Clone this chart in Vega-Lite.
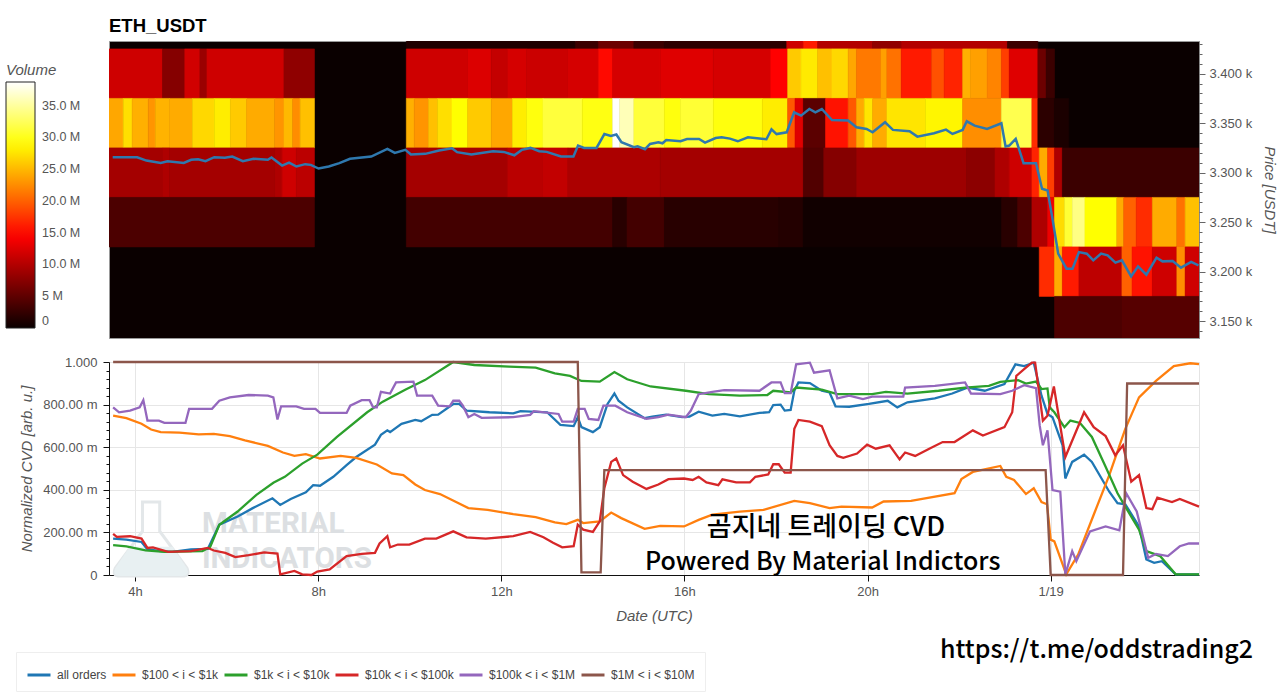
{
"$schema":"https://vega.github.io/schema/vega-lite/v6.json",
"padding":{"left":5,"top":16,"right":0,"bottom":0},
"background":"white",
"spacing":16,
"config":{"font":"Liberation Sans","axis":{"labelFont":"Liberation Sans","titleFont":"Liberation Sans","labelColor":"#555","titleColor":"#555","titleFontStyle":"italic","titleFontWeight":"normal","titleFontSize":15,"labelFontSize":13},"view":{"stroke":"#bbb"}},
"datasets":{
"heat":[
{"a":9.88,"b":13.54,"lo":3425,"hi":3475,"v":1.2},{"a":13.54,"b":14.04,"lo":3425,"hi":3475,"v":2.9},{"a":14.04,"b":14.81,"lo":3425,"hi":3475,"v":5.8},{"a":14.81,"b":15.47,"lo":3425,"hi":3475,"v":2.9},{"a":15.47,"b":18.12,"lo":3425,"hi":3475,"v":2},{"a":18.12,"b":18.48,"lo":3425,"hi":3475,"v":11.6},{"a":18.48,"b":18.79,"lo":3425,"hi":3475,"v":16},{"a":18.79,"b":19.98,"lo":3425,"hi":3475,"v":10},{"a":19.98,"b":20.6,"lo":3425,"hi":3475,"v":8},{"a":20.6,"b":22.9,"lo":3425,"hi":3475,"v":10},{"a":22.9,"b":23.56,"lo":3425,"hi":3475,"v":2.9},
{"a":3.43,"b":4.6,"lo":3375,"hi":3425,"v":11.6},{"a":4.6,"b":5.08,"lo":3375,"hi":3425,"v":7.3},{"a":5.08,"b":5.41,"lo":3375,"hi":3425,"v":11.8},{"a":5.41,"b":5.56,"lo":3375,"hi":3425,"v":8.5},{"a":5.56,"b":7.23,"lo":3375,"hi":3425,"v":11.6},{"a":7.23,"b":7.89,"lo":3375,"hi":3425,"v":7.9},
{"a":9.88,"b":11.21,"lo":3375,"hi":3425,"v":11.6},{"a":11.21,"b":11.72,"lo":3375,"hi":3425,"v":12.4},{"a":11.72,"b":12.07,"lo":3375,"hi":3425,"v":11},{"a":12.07,"b":12.49,"lo":3375,"hi":3425,"v":12},{"a":12.49,"b":13.38,"lo":3375,"hi":3425,"v":11.4},{"a":13.38,"b":14.04,"lo":3375,"hi":3425,"v":12},{"a":14.04,"b":14.35,"lo":3375,"hi":3425,"v":15},{"a":14.35,"b":15.38,"lo":3375,"hi":3425,"v":12},{"a":15.38,"b":16.53,"lo":3375,"hi":3425,"v":12.6},{"a":16.53,"b":17.77,"lo":3375,"hi":3425,"v":12},{"a":17.77,"b":18.14,"lo":3375,"hi":3425,"v":14.5},{"a":18.14,"b":18.43,"lo":3375,"hi":3425,"v":26},{"a":18.43,"b":18.79,"lo":3375,"hi":3425,"v":27.8},{"a":18.79,"b":19.1,"lo":3375,"hi":3425,"v":25.4},{"a":19.1,"b":19.45,"lo":3375,"hi":3425,"v":26.8},{"a":19.45,"b":19.63,"lo":3375,"hi":3425,"v":24},{"a":19.63,"b":20.16,"lo":3375,"hi":3425,"v":21.4},{"a":20.16,"b":20.29,"lo":3375,"hi":3425,"v":23.6},{"a":20.29,"b":20.6,"lo":3375,"hi":3425,"v":21},{"a":20.6,"b":21.26,"lo":3375,"hi":3425,"v":16},{"a":21.26,"b":21.53,"lo":3375,"hi":3425,"v":19.1},{"a":21.53,"b":21.93,"lo":3375,"hi":3425,"v":16.5},{"a":21.93,"b":22.1,"lo":3375,"hi":3425,"v":24.5},{"a":22.1,"b":22.46,"lo":3375,"hi":3425,"v":23.6},{"a":22.46,"b":22.77,"lo":3375,"hi":3425,"v":22},{"a":22.77,"b":22.94,"lo":3375,"hi":3425,"v":18},{"a":22.94,"b":23.56,"lo":3375,"hi":3425,"v":12.6},{"a":23.56,"b":23.74,"lo":3375,"hi":3425,"v":5.8},{"a":23.74,"b":23.92,"lo":3375,"hi":3425,"v":2.9},
{"a":3.43,"b":3.75,"lo":3325,"hi":3375,"v":24},{"a":3.75,"b":3.94,"lo":3325,"hi":3375,"v":27.2},{"a":3.94,"b":4.29,"lo":3325,"hi":3375,"v":24.5},{"a":4.29,"b":4.44,"lo":3325,"hi":3375,"v":23},{"a":4.44,"b":4.75,"lo":3325,"hi":3375,"v":24.7},{"a":4.75,"b":5.25,"lo":3325,"hi":3375,"v":24.2},{"a":5.25,"b":5.72,"lo":3325,"hi":3375,"v":26.8},{"a":5.72,"b":6.07,"lo":3325,"hi":3375,"v":28},{"a":6.07,"b":6.42,"lo":3325,"hi":3375,"v":26},{"a":6.42,"b":7.03,"lo":3325,"hi":3375,"v":24.2},{"a":7.03,"b":7.23,"lo":3325,"hi":3375,"v":23},{"a":7.23,"b":7.42,"lo":3325,"hi":3375,"v":25},{"a":7.42,"b":7.58,"lo":3325,"hi":3375,"v":22.5},{"a":7.58,"b":7.89,"lo":3325,"hi":3375,"v":25.4},
{"a":9.88,"b":10.05,"lo":3325,"hi":3375,"v":24.5},{"a":10.05,"b":10.36,"lo":3325,"hi":3375,"v":23},{"a":10.36,"b":10.56,"lo":3325,"hi":3375,"v":25.4},{"a":10.56,"b":10.87,"lo":3325,"hi":3375,"v":27.2},{"a":10.87,"b":11.21,"lo":3325,"hi":3375,"v":29},{"a":11.21,"b":11.72,"lo":3325,"hi":3375,"v":26},{"a":11.72,"b":12.18,"lo":3325,"hi":3375,"v":24},{"a":12.18,"b":12.49,"lo":3325,"hi":3375,"v":28},{"a":12.49,"b":12.84,"lo":3325,"hi":3375,"v":29.5},{"a":12.84,"b":13.69,"lo":3325,"hi":3375,"v":31.3},{"a":13.69,"b":14.35,"lo":3325,"hi":3375,"v":29.7},{"a":14.35,"b":14.5,"lo":3325,"hi":3375,"v":38.7},{"a":14.5,"b":14.81,"lo":3325,"hi":3375,"v":36},{"a":14.81,"b":15.47,"lo":3325,"hi":3375,"v":31.2},{"a":15.47,"b":15.82,"lo":3325,"hi":3375,"v":29.5},{"a":15.82,"b":16.53,"lo":3325,"hi":3375,"v":31},{"a":16.53,"b":17.59,"lo":3325,"hi":3375,"v":29.5},{"a":17.59,"b":18.14,"lo":3325,"hi":3375,"v":28},{"a":18.14,"b":18.3,"lo":3325,"hi":3375,"v":19.5},{"a":18.3,"b":18.48,"lo":3325,"hi":3375,"v":12.6},{"a":18.48,"b":18.96,"lo":3325,"hi":3375,"v":4.8},{"a":18.96,"b":19.45,"lo":3325,"hi":3375,"v":15.5},{"a":19.45,"b":19.63,"lo":3325,"hi":3375,"v":19.5},{"a":19.63,"b":19.8,"lo":3325,"hi":3375,"v":24.2},{"a":19.8,"b":19.98,"lo":3325,"hi":3375,"v":27.5},{"a":19.98,"b":20.29,"lo":3325,"hi":3375,"v":24.2},{"a":20.29,"b":21.13,"lo":3325,"hi":3375,"v":27.5},{"a":21.13,"b":21.93,"lo":3325,"hi":3375,"v":28.5},{"a":21.93,"b":22.77,"lo":3325,"hi":3375,"v":22.6},{"a":22.77,"b":23.43,"lo":3325,"hi":3375,"v":32},{"a":23.43,"b":23.56,"lo":3325,"hi":3375,"v":17},{"a":23.56,"b":23.92,"lo":3325,"hi":3375,"v":2},{"a":23.92,"b":24.23,"lo":3325,"hi":3375,"v":1},
{"a":3.43,"b":4.6,"lo":3275,"hi":3325,"v":9.1},{"a":4.6,"b":4.75,"lo":3275,"hi":3325,"v":9.7},{"a":4.75,"b":7.03,"lo":3275,"hi":3325,"v":9.1},{"a":7.03,"b":7.19,"lo":3275,"hi":3325,"v":9.7},{"a":7.19,"b":7.5,"lo":3275,"hi":3325,"v":11.6},{"a":7.5,"b":7.89,"lo":3275,"hi":3325,"v":10.5},
{"a":9.88,"b":12.07,"lo":3275,"hi":3325,"v":9.1},{"a":12.07,"b":12.84,"lo":3275,"hi":3325,"v":10.4},{"a":12.84,"b":13.38,"lo":3275,"hi":3325,"v":10.9},{"a":13.38,"b":15.38,"lo":3275,"hi":3325,"v":9.6},{"a":15.38,"b":18.48,"lo":3275,"hi":3325,"v":9.1},{"a":18.48,"b":18.92,"lo":3275,"hi":3325,"v":4.2},{"a":18.92,"b":19.63,"lo":3275,"hi":3325,"v":7.3},{"a":19.63,"b":22.02,"lo":3275,"hi":3325,"v":8.7},{"a":22.02,"b":22.63,"lo":3275,"hi":3325,"v":7.7},{"a":22.63,"b":22.94,"lo":3275,"hi":3325,"v":9.7},{"a":22.94,"b":23.43,"lo":3275,"hi":3325,"v":11.6},{"a":23.43,"b":23.59,"lo":3275,"hi":3325,"v":16.5},{"a":23.59,"b":23.77,"lo":3275,"hi":3325,"v":24.2},{"a":23.77,"b":23.92,"lo":3275,"hi":3325,"v":18},{"a":23.92,"b":24.09,"lo":3275,"hi":3325,"v":9.7},{"a":24.09,"b":27.06,"lo":3275,"hi":3325,"v":2.9},
{"a":3.43,"b":7.89,"lo":3225,"hi":3275,"v":3.9},{"a":9.88,"b":14.35,"lo":3225,"hi":3275,"v":3.4},{"a":14.35,"b":14.66,"lo":3225,"hi":3275,"v":1.8},{"a":14.66,"b":15.47,"lo":3225,"hi":3275,"v":3.4},{"a":15.47,"b":17.95,"lo":3225,"hi":3275,"v":1.8},{"a":17.95,"b":18.48,"lo":3225,"hi":3275,"v":1.5},{"a":18.48,"b":22.77,"lo":3225,"hi":3275,"v":0.4},{"a":22.77,"b":23.12,"lo":3225,"hi":3275,"v":1.8},{"a":23.12,"b":23.43,"lo":3225,"hi":3275,"v":3.9},{"a":23.43,"b":23.77,"lo":3225,"hi":3275,"v":9.7},{"a":23.77,"b":23.92,"lo":3225,"hi":3275,"v":13.5},{"a":23.92,"b":24.14,"lo":3225,"hi":3275,"v":27},{"a":24.14,"b":24.31,"lo":3225,"hi":3275,"v":31},{"a":24.31,"b":24.58,"lo":3225,"hi":3275,"v":34},{"a":24.58,"b":25.27,"lo":3225,"hi":3275,"v":29},{"a":25.27,"b":25.42,"lo":3225,"hi":3275,"v":24.2},{"a":25.42,"b":25.69,"lo":3225,"hi":3275,"v":20},{"a":25.69,"b":26.04,"lo":3225,"hi":3275,"v":17},{"a":26.04,"b":26.57,"lo":3225,"hi":3275,"v":24.2},{"a":26.57,"b":26.75,"lo":3225,"hi":3275,"v":21},{"a":26.75,"b":27.06,"lo":3225,"hi":3275,"v":25.4},
{"a":23.59,"b":23.92,"lo":3175,"hi":3225,"v":17},{"a":23.92,"b":24.09,"lo":3175,"hi":3225,"v":24.2},{"a":24.09,"b":24.45,"lo":3175,"hi":3225,"v":16},{"a":24.45,"b":25.38,"lo":3175,"hi":3225,"v":10.6},{"a":25.38,"b":25.6,"lo":3175,"hi":3225,"v":20},{"a":25.6,"b":26.04,"lo":3175,"hi":3225,"v":15.5},{"a":26.04,"b":26.57,"lo":3175,"hi":3225,"v":11.6},{"a":26.57,"b":26.75,"lo":3175,"hi":3225,"v":22.6},{"a":26.75,"b":27.06,"lo":3175,"hi":3225,"v":11.6},
{"a":23.92,"b":25.38,"lo":3125,"hi":3175,"v":3.9},{"a":25.38,"b":27.06,"lo":3125,"hi":3175,"v":4.5}
],
"price":[
{"h":3.52,"p":3315.6},{"h":4.05,"p":3315.6},{"h":4.25,"p":3312.2},{"h":4.56,"p":3309.9},{"h":4.71,"p":3311.6},{"h":5.06,"p":3309.9},{"h":5.22,"p":3313},{"h":5.37,"p":3313.6},{"h":5.53,"p":3311.6},{"h":5.72,"p":3315.6},{"h":5.95,"p":3315},{"h":6.11,"p":3316.3},{"h":6.34,"p":3311.6},{"h":6.57,"p":3314},{"h":6.88,"p":3313},{"h":6.96,"p":3315.3},{"h":7.19,"p":3307.2},{"h":7.34,"p":3310.2},{"h":7.5,"p":3306.2},{"h":7.69,"p":3308.6},{"h":7.81,"p":3307.9},{"h":7.98,"p":3304.2},{"h":8.2,"p":3306.2},{"h":8.43,"p":3309.6},{"h":8.66,"p":3314},{"h":9.12,"p":3316.3},{"h":9.47,"p":3324},{"h":9.63,"p":3320},{"h":9.86,"p":3323},{"h":9.98,"p":3318.3},{"h":10.29,"p":3319},{"h":10.59,"p":3322.3},{"h":10.87,"p":3324.7},{"h":10.98,"p":3320.7},{"h":11.29,"p":3318.3},{"h":11.76,"p":3321.7},{"h":11.99,"p":3321},{"h":12.22,"p":3317.6},{"h":12.38,"p":3323},{"h":12.57,"p":3325},{"h":12.76,"p":3321.7},{"h":12.92,"p":3321},{"h":13.23,"p":3316.3},{"h":13.5,"p":3316.3},{"h":13.6,"p":3327.4},{"h":13.73,"p":3325},{"h":14,"p":3325},{"h":14.17,"p":3339},{"h":14.31,"p":3337},{"h":14.43,"p":3338.5},{"h":14.54,"p":3330.7},{"h":14.81,"p":3325.7},{"h":14.89,"p":3326.7},{"h":15.05,"p":3323.7},{"h":15.16,"p":3329},{"h":15.34,"p":3330.7},{"h":15.43,"p":3329.7},{"h":15.51,"p":3333},{"h":15.82,"p":3331.7},{"h":15.96,"p":3334},{"h":16.22,"p":3334},{"h":16.35,"p":3330.4},{"h":16.58,"p":3335},{"h":16.71,"p":3335.8},{"h":16.89,"p":3334.4},{"h":17.06,"p":3331.7},{"h":17.28,"p":3335.8},{"h":17.68,"p":3333.8},{"h":17.79,"p":3343.8},{"h":17.9,"p":3339},{"h":18.12,"p":3340.8},{"h":18.28,"p":3361},{"h":18.43,"p":3357.6},{"h":18.61,"p":3364.3},{"h":18.74,"p":3361},{"h":18.88,"p":3364.3},{"h":19.1,"p":3353.2},{"h":19.45,"p":3352.6},{"h":19.63,"p":3345.8},{"h":19.85,"p":3344.2},{"h":19.98,"p":3340.8},{"h":20.25,"p":3350.9},{"h":20.42,"p":3343.2},{"h":20.78,"p":3341.8},{"h":20.95,"p":3336.4},{"h":21.31,"p":3339.8},{"h":21.57,"p":3343.5},{"h":21.71,"p":3339.1},{"h":21.93,"p":3343.2},{"h":22.02,"p":3351.9},{"h":22.19,"p":3347.5},{"h":22.46,"p":3344.2},{"h":22.77,"p":3349.9},{"h":22.86,"p":3326.4},{"h":22.94,"p":3327.4},{"h":23.08,"p":3334.1},{"h":23.25,"p":3309.6},{"h":23.52,"p":3309.6},{"h":23.65,"p":3283.7},{"h":23.77,"p":3282},{"h":23.87,"p":3255.1},{"h":24,"p":3218.2},{"h":24.18,"p":3203},{"h":24.31,"p":3203},{"h":24.45,"p":3219.8},{"h":24.62,"p":3218.2},{"h":24.76,"p":3211.4},{"h":24.93,"p":3218.2},{"h":25.07,"p":3216.5},{"h":25.24,"p":3209.1},{"h":25.38,"p":3211.4},{"h":25.58,"p":3195.3},{"h":25.73,"p":3205.4},{"h":25.91,"p":3197},{"h":26.13,"p":3214.1},{"h":26.26,"p":3210.4},{"h":26.48,"p":3210.8},{"h":26.66,"p":3204},{"h":26.88,"p":3209.8},{"h":27.04,"p":3206.4}
],
"cvd":[
{"h":3.52,"s":"all orders","v":0.171},{"h":3.81,"s":"all orders","v":0.166},{"h":4.14,"s":"all orders","v":0.155},{"h":4.27,"s":"all orders","v":0.12},{"h":4.56,"s":"all orders","v":0.112},{"h":4.81,"s":"all orders","v":0.109},{"h":5.22,"s":"all orders","v":0.12},{"h":5.59,"s":"all orders","v":0.123},{"h":5.84,"s":"all orders","v":0.236},{"h":6.24,"s":"all orders","v":0.275},{"h":6.57,"s":"all orders","v":0.314},{"h":7,"s":"all orders","v":0.36},{"h":7.17,"s":"all orders","v":0.329},{"h":7.4,"s":"all orders","v":0.357},{"h":7.73,"s":"all orders","v":0.388},{"h":7.89,"s":"all orders","v":0.422},{"h":8.04,"s":"all orders","v":0.419},{"h":8.33,"s":"all orders","v":0.461},{"h":8.62,"s":"all orders","v":0.516},{"h":8.83,"s":"all orders","v":0.554},{"h":9.24,"s":"all orders","v":0.612},{"h":9.37,"s":"all orders","v":0.658},{"h":9.51,"s":"all orders","v":0.679},{"h":9.57,"s":"all orders","v":0.671},{"h":9.82,"s":"all orders","v":0.71},{"h":10.12,"s":"all orders","v":0.728},{"h":10.25,"s":"all orders","v":0.722},{"h":10.49,"s":"all orders","v":0.752},{"h":10.62,"s":"all orders","v":0.753},{"h":10.95,"s":"all orders","v":0.803},{"h":11.08,"s":"all orders","v":0.803},{"h":11.24,"s":"all orders","v":0.772},{"h":11.74,"s":"all orders","v":0.764},{"h":12.26,"s":"all orders","v":0.759},{"h":12.42,"s":"all orders","v":0.769},{"h":13,"s":"all orders","v":0.764},{"h":13.29,"s":"all orders","v":0.705},{"h":13.58,"s":"all orders","v":0.699},{"h":13.67,"s":"all orders","v":0.741},{"h":13.75,"s":"all orders","v":0.694},{"h":14,"s":"all orders","v":0.671},{"h":14.15,"s":"all orders","v":0.694},{"h":14.32,"s":"all orders","v":0.803},{"h":14.47,"s":"all orders","v":0.852},{"h":14.56,"s":"all orders","v":0.818},{"h":14.75,"s":"all orders","v":0.787},{"h":15.13,"s":"all orders","v":0.736},{"h":15.3,"s":"all orders","v":0.744},{"h":15.6,"s":"all orders","v":0.753},{"h":15.95,"s":"all orders","v":0.741},{"h":16.11,"s":"all orders","v":0.744},{"h":16.31,"s":"all orders","v":0.767},{"h":16.61,"s":"all orders","v":0.748},{"h":16.87,"s":"all orders","v":0.756},{"h":17.21,"s":"all orders","v":0.745},{"h":17.64,"s":"all orders","v":0.761},{"h":17.85,"s":"all orders","v":0.764},{"h":17.94,"s":"all orders","v":0.798},{"h":18.1,"s":"all orders","v":0.8},{"h":18.19,"s":"all orders","v":0.772},{"h":18.32,"s":"all orders","v":0.775},{"h":18.4,"s":"all orders","v":0.865},{"h":18.49,"s":"all orders","v":0.904},{"h":18.74,"s":"all orders","v":0.901},{"h":19,"s":"all orders","v":0.865},{"h":19.17,"s":"all orders","v":0.857},{"h":19.3,"s":"all orders","v":0.792},{"h":19.6,"s":"all orders","v":0.79},{"h":20.03,"s":"all orders","v":0.803},{"h":20.44,"s":"all orders","v":0.818},{"h":20.65,"s":"all orders","v":0.787},{"h":20.87,"s":"all orders","v":0.811},{"h":21.47,"s":"all orders","v":0.829},{"h":21.85,"s":"all orders","v":0.852},{"h":22.18,"s":"all orders","v":0.88},{"h":22.56,"s":"all orders","v":0.865},{"h":22.99,"s":"all orders","v":0.896},{"h":23.23,"s":"all orders","v":0.989},{"h":23.42,"s":"all orders","v":0.981},{"h":23.63,"s":"all orders","v":0.997},{"h":23.8,"s":"all orders","v":0.842},{"h":23.93,"s":"all orders","v":0.756},{"h":24.04,"s":"all orders","v":0.741},{"h":24.26,"s":"all orders","v":0.609},{"h":24.32,"s":"all orders","v":0.453},{"h":24.47,"s":"all orders","v":0.531},{"h":24.73,"s":"all orders","v":0.565},{"h":24.9,"s":"all orders","v":0.531},{"h":25.28,"s":"all orders","v":0.391},{"h":25.46,"s":"all orders","v":0.337},{"h":25.63,"s":"all orders","v":0.332},{"h":25.93,"s":"all orders","v":0.228},{"h":26.09,"s":"all orders","v":0.073},{"h":26.26,"s":"all orders","v":0.057},{"h":26.43,"s":"all orders","v":0.065},{"h":26.73,"s":"all orders","v":0.003},{"h":27.24,"s":"all orders","v":0.003},
{"h":3.52,"s":"$100 < i < $1k","v":0.748},{"h":3.81,"s":"$100 < i < $1k","v":0.736},{"h":4.14,"s":"$100 < i < $1k","v":0.71},{"h":4.35,"s":"$100 < i < $1k","v":0.683},{"h":4.56,"s":"$100 < i < $1k","v":0.671},{"h":4.97,"s":"$100 < i < $1k","v":0.668},{"h":5.39,"s":"$100 < i < $1k","v":0.66},{"h":5.72,"s":"$100 < i < $1k","v":0.663},{"h":6.07,"s":"$100 < i < $1k","v":0.652},{"h":6.4,"s":"$100 < i < $1k","v":0.632},{"h":6.9,"s":"$100 < i < $1k","v":0.606},{"h":7.23,"s":"$100 < i < $1k","v":0.575},{"h":7.48,"s":"$100 < i < $1k","v":0.559},{"h":7.73,"s":"$100 < i < $1k","v":0.567},{"h":8.04,"s":"$100 < i < $1k","v":0.547},{"h":8.49,"s":"$100 < i < $1k","v":0.559},{"h":8.83,"s":"$100 < i < $1k","v":0.55},{"h":9.28,"s":"$100 < i < $1k","v":0.519},{"h":9.61,"s":"$100 < i < $1k","v":0.477},{"h":9.86,"s":"$100 < i < $1k","v":0.469},{"h":10.12,"s":"$100 < i < $1k","v":0.425},{"h":10.33,"s":"$100 < i < $1k","v":0.399},{"h":10.66,"s":"$100 < i < $1k","v":0.38},{"h":10.99,"s":"$100 < i < $1k","v":0.345},{"h":11.28,"s":"$100 < i < $1k","v":0.314},{"h":11.7,"s":"$100 < i < $1k","v":0.306},{"h":12.26,"s":"$100 < i < $1k","v":0.286},{"h":12.75,"s":"$100 < i < $1k","v":0.272},{"h":13.17,"s":"$100 < i < $1k","v":0.247},{"h":13.42,"s":"$100 < i < $1k","v":0.239},{"h":13.67,"s":"$100 < i < $1k","v":0.259},{"h":13.79,"s":"$100 < i < $1k","v":0.244},{"h":14.15,"s":"$100 < i < $1k","v":0.252},{"h":14.4,"s":"$100 < i < $1k","v":0.293},{"h":14.62,"s":"$100 < i < $1k","v":0.267},{"h":15.13,"s":"$100 < i < $1k","v":0.217},{"h":15.47,"s":"$100 < i < $1k","v":0.231},{"h":15.99,"s":"$100 < i < $1k","v":0.228},{"h":16.31,"s":"$100 < i < $1k","v":0.259},{"h":16.61,"s":"$100 < i < $1k","v":0.283},{"h":17.21,"s":"$100 < i < $1k","v":0.298},{"h":17.73,"s":"$100 < i < $1k","v":0.306},{"h":18.4,"s":"$100 < i < $1k","v":0.348},{"h":18.74,"s":"$100 < i < $1k","v":0.337},{"h":19.17,"s":"$100 < i < $1k","v":0.314},{"h":19.43,"s":"$100 < i < $1k","v":0.321},{"h":20.1,"s":"$100 < i < $1k","v":0.317},{"h":20.35,"s":"$100 < i < $1k","v":0.345},{"h":20.95,"s":"$100 < i < $1k","v":0.348},{"h":21.9,"s":"$100 < i < $1k","v":0.384},{"h":22.05,"s":"$100 < i < $1k","v":0.45},{"h":22.3,"s":"$100 < i < $1k","v":0.484},{"h":22.9,"s":"$100 < i < $1k","v":0.512},{"h":23.03,"s":"$100 < i < $1k","v":0.461},{"h":23.2,"s":"$100 < i < $1k","v":0.446},{"h":23.46,"s":"$100 < i < $1k","v":0.38},{"h":23.63,"s":"$100 < i < $1k","v":0.407},{"h":23.8,"s":"$100 < i < $1k","v":0.342},{"h":23.92,"s":"$100 < i < $1k","v":0.332},{"h":24,"s":"$100 < i < $1k","v":0.166},{"h":24.08,"s":"$100 < i < $1k","v":0.158},{"h":24.34,"s":"$100 < i < $1k","v":0.003},{"h":24.6,"s":"$100 < i < $1k","v":0.096},{"h":24.94,"s":"$100 < i < $1k","v":0.283},{"h":25.28,"s":"$100 < i < $1k","v":0.469},{"h":25.63,"s":"$100 < i < $1k","v":0.686},{"h":25.93,"s":"$100 < i < $1k","v":0.834},{"h":26.3,"s":"$100 < i < $1k","v":0.911},{"h":26.69,"s":"$100 < i < $1k","v":0.981},{"h":27.05,"s":"$100 < i < $1k","v":0.994},{"h":27.24,"s":"$100 < i < $1k","v":0.99},
{"h":3.52,"s":"$1k < i < $10k","v":0.14},{"h":3.81,"s":"$1k < i < $10k","v":0.134},{"h":4.23,"s":"$1k < i < $10k","v":0.116},{"h":4.64,"s":"$1k < i < $10k","v":0.109},{"h":5.47,"s":"$1k < i < $10k","v":0.112},{"h":5.64,"s":"$1k < i < $10k","v":0.132},{"h":5.84,"s":"$1k < i < $10k","v":0.236},{"h":6.24,"s":"$1k < i < $10k","v":0.298},{"h":6.65,"s":"$1k < i < $10k","v":0.376},{"h":7.02,"s":"$1k < i < $10k","v":0.433},{"h":7.27,"s":"$1k < i < $10k","v":0.461},{"h":7.65,"s":"$1k < i < $10k","v":0.523},{"h":7.98,"s":"$1k < i < $10k","v":0.565},{"h":8.41,"s":"$1k < i < $10k","v":0.648},{"h":9.07,"s":"$1k < i < $10k","v":0.764},{"h":9.41,"s":"$1k < i < $10k","v":0.814},{"h":9.9,"s":"$1k < i < $10k","v":0.87},{"h":10.33,"s":"$1k < i < $10k","v":0.915},{"h":10.95,"s":"$1k < i < $10k","v":1},{"h":11.41,"s":"$1k < i < $10k","v":0.986},{"h":12.17,"s":"$1k < i < $10k","v":0.978},{"h":12.75,"s":"$1k < i < $10k","v":0.974},{"h":13.17,"s":"$1k < i < $10k","v":0.947},{"h":13.5,"s":"$1k < i < $10k","v":0.935},{"h":13.75,"s":"$1k < i < $10k","v":0.911},{"h":14.15,"s":"$1k < i < $10k","v":0.908},{"h":14.47,"s":"$1k < i < $10k","v":0.953},{"h":14.75,"s":"$1k < i < $10k","v":0.919},{"h":15.26,"s":"$1k < i < $10k","v":0.885},{"h":16.03,"s":"$1k < i < $10k","v":0.865},{"h":16.53,"s":"$1k < i < $10k","v":0.849},{"h":17.21,"s":"$1k < i < $10k","v":0.842},{"h":17.81,"s":"$1k < i < $10k","v":0.845},{"h":17.94,"s":"$1k < i < $10k","v":0.865},{"h":18.32,"s":"$1k < i < $10k","v":0.857},{"h":18.44,"s":"$1k < i < $10k","v":0.88},{"h":19,"s":"$1k < i < $10k","v":0.87},{"h":19.34,"s":"$1k < i < $10k","v":0.849},{"h":20.1,"s":"$1k < i < $10k","v":0.849},{"h":20.4,"s":"$1k < i < $10k","v":0.86},{"h":20.87,"s":"$1k < i < $10k","v":0.852},{"h":21.55,"s":"$1k < i < $10k","v":0.865},{"h":22.13,"s":"$1k < i < $10k","v":0.88},{"h":22.65,"s":"$1k < i < $10k","v":0.888},{"h":22.9,"s":"$1k < i < $10k","v":0.907},{"h":23.29,"s":"$1k < i < $10k","v":0.915},{"h":23.46,"s":"$1k < i < $10k","v":0.899},{"h":23.68,"s":"$1k < i < $10k","v":0.908},{"h":23.8,"s":"$1k < i < $10k","v":0.873},{"h":23.93,"s":"$1k < i < $10k","v":0.876},{"h":23.98,"s":"$1k < i < $10k","v":0.787},{"h":24.08,"s":"$1k < i < $10k","v":0.764},{"h":24.3,"s":"$1k < i < $10k","v":0.694},{"h":24.43,"s":"$1k < i < $10k","v":0.725},{"h":24.64,"s":"$1k < i < $10k","v":0.714},{"h":24.9,"s":"$1k < i < $10k","v":0.648},{"h":25.2,"s":"$1k < i < $10k","v":0.508},{"h":25.46,"s":"$1k < i < $10k","v":0.384},{"h":25.63,"s":"$1k < i < $10k","v":0.321},{"h":25.93,"s":"$1k < i < $10k","v":0.213},{"h":26.09,"s":"$1k < i < $10k","v":0.112},{"h":26.39,"s":"$1k < i < $10k","v":0.089},{"h":26.73,"s":"$1k < i < $10k","v":0.003},{"h":27.24,"s":"$1k < i < $10k","v":0.003},
{"h":3.52,"s":"$10k < i < $100k","v":0.193},{"h":3.6,"s":"$10k < i < $100k","v":0.179},{"h":3.89,"s":"$10k < i < $100k","v":0.182},{"h":4.14,"s":"$10k < i < $100k","v":0.171},{"h":4.27,"s":"$10k < i < $100k","v":0.127},{"h":4.39,"s":"$10k < i < $100k","v":0.13},{"h":4.72,"s":"$10k < i < $100k","v":0.109},{"h":5.22,"s":"$10k < i < $100k","v":0.112},{"h":5.59,"s":"$10k < i < $100k","v":0.127},{"h":5.72,"s":"$10k < i < $100k","v":0.115},{"h":5.97,"s":"$10k < i < $100k","v":0.104},{"h":6.19,"s":"$10k < i < $100k","v":0.084},{"h":6.48,"s":"$10k < i < $100k","v":0.093},{"h":6.82,"s":"$10k < i < $100k","v":0.106},{"h":7.11,"s":"$10k < i < $100k","v":0.101},{"h":7.17,"s":"$10k < i < $100k","v":0.003},{"h":7.48,"s":"$10k < i < $100k","v":0.019},{"h":7.65,"s":"$10k < i < $100k","v":0.003},{"h":7.85,"s":"$10k < i < $100k","v":0},{"h":7.98,"s":"$10k < i < $100k","v":0.016},{"h":8.25,"s":"$10k < i < $100k","v":0.026},{"h":8.62,"s":"$10k < i < $100k","v":0.089},{"h":8.95,"s":"$10k < i < $100k","v":0.099},{"h":9.24,"s":"$10k < i < $100k","v":0.104},{"h":9.34,"s":"$10k < i < $100k","v":0.148},{"h":9.51,"s":"$10k < i < $100k","v":0.182},{"h":9.57,"s":"$10k < i < $100k","v":0.13},{"h":9.74,"s":"$10k < i < $100k","v":0.143},{"h":9.99,"s":"$10k < i < $100k","v":0.143},{"h":10.33,"s":"$10k < i < $100k","v":0.171},{"h":10.58,"s":"$10k < i < $100k","v":0.171},{"h":10.95,"s":"$10k < i < $100k","v":0.205},{"h":11.24,"s":"$10k < i < $100k","v":0.177},{"h":11.66,"s":"$10k < i < $100k","v":0.171},{"h":12.26,"s":"$10k < i < $100k","v":0.182},{"h":12.63,"s":"$10k < i < $100k","v":0.202},{"h":12.92,"s":"$10k < i < $100k","v":0.177},{"h":13.13,"s":"$10k < i < $100k","v":0.151},{"h":13.33,"s":"$10k < i < $100k","v":0.13},{"h":13.58,"s":"$10k < i < $100k","v":0.135},{"h":13.67,"s":"$10k < i < $100k","v":0.236},{"h":13.79,"s":"$10k < i < $100k","v":0.213},{"h":14,"s":"$10k < i < $100k","v":0.202},{"h":14.15,"s":"$10k < i < $100k","v":0.252},{"h":14.25,"s":"$10k < i < $100k","v":0.407},{"h":14.4,"s":"$10k < i < $100k","v":0.531},{"h":14.51,"s":"$10k < i < $100k","v":0.547},{"h":14.66,"s":"$10k < i < $100k","v":0.469},{"h":14.87,"s":"$10k < i < $100k","v":0.438},{"h":15.17,"s":"$10k < i < $100k","v":0.404},{"h":15.43,"s":"$10k < i < $100k","v":0.425},{"h":15.65,"s":"$10k < i < $100k","v":0.45},{"h":15.99,"s":"$10k < i < $100k","v":0.453},{"h":16.18,"s":"$10k < i < $100k","v":0.446},{"h":16.31,"s":"$10k < i < $100k","v":0.461},{"h":16.48,"s":"$10k < i < $100k","v":0.435},{"h":16.74,"s":"$10k < i < $100k","v":0.422},{"h":16.83,"s":"$10k < i < $100k","v":0.449},{"h":17.13,"s":"$10k < i < $100k","v":0.435},{"h":17.43,"s":"$10k < i < $100k","v":0.435},{"h":17.55,"s":"$10k < i < $100k","v":0.461},{"h":17.83,"s":"$10k < i < $100k","v":0.472},{"h":17.94,"s":"$10k < i < $100k","v":0.52},{"h":18.06,"s":"$10k < i < $100k","v":0.52},{"h":18.19,"s":"$10k < i < $100k","v":0.481},{"h":18.32,"s":"$10k < i < $100k","v":0.481},{"h":18.4,"s":"$10k < i < $100k","v":0.686},{"h":18.49,"s":"$10k < i < $100k","v":0.728},{"h":18.74,"s":"$10k < i < $100k","v":0.72},{"h":19,"s":"$10k < i < $100k","v":0.699},{"h":19.17,"s":"$10k < i < $100k","v":0.609},{"h":19.34,"s":"$10k < i < $100k","v":0.559},{"h":19.47,"s":"$10k < i < $100k","v":0.55},{"h":19.77,"s":"$10k < i < $100k","v":0.57},{"h":19.99,"s":"$10k < i < $100k","v":0.612},{"h":20.18,"s":"$10k < i < $100k","v":0.593},{"h":20.48,"s":"$10k < i < $100k","v":0.609},{"h":20.7,"s":"$10k < i < $100k","v":0.543},{"h":20.82,"s":"$10k < i < $100k","v":0.575},{"h":21.04,"s":"$10k < i < $100k","v":0.559},{"h":21.38,"s":"$10k < i < $100k","v":0.596},{"h":21.64,"s":"$10k < i < $100k","v":0.624},{"h":21.9,"s":"$10k < i < $100k","v":0.624},{"h":22.3,"s":"$10k < i < $100k","v":0.679},{"h":22.52,"s":"$10k < i < $100k","v":0.655},{"h":22.99,"s":"$10k < i < $100k","v":0.694},{"h":23.16,"s":"$10k < i < $100k","v":0.764},{"h":23.25,"s":"$10k < i < $100k","v":0.935},{"h":23.42,"s":"$10k < i < $100k","v":0.966},{"h":23.59,"s":"$10k < i < $100k","v":0.997},{"h":23.66,"s":"$10k < i < $100k","v":0.997},{"h":23.83,"s":"$10k < i < $100k","v":0.725},{"h":23.93,"s":"$10k < i < $100k","v":0.748},{"h":24.07,"s":"$10k < i < $100k","v":0.885},{"h":24.32,"s":"$10k < i < $100k","v":0.554},{"h":24.73,"s":"$10k < i < $100k","v":0.764},{"h":24.94,"s":"$10k < i < $100k","v":0.694},{"h":25.2,"s":"$10k < i < $100k","v":0.652},{"h":25.41,"s":"$10k < i < $100k","v":0.562},{"h":25.58,"s":"$10k < i < $100k","v":0.609},{"h":25.76,"s":"$10k < i < $100k","v":0.438},{"h":25.93,"s":"$10k < i < $100k","v":0.469},{"h":26.09,"s":"$10k < i < $100k","v":0.314},{"h":26.22,"s":"$10k < i < $100k","v":0.309},{"h":26.33,"s":"$10k < i < $100k","v":0.363},{"h":26.65,"s":"$10k < i < $100k","v":0.342},{"h":26.82,"s":"$10k < i < $100k","v":0.357},{"h":27.24,"s":"$10k < i < $100k","v":0.321},
{"h":3.52,"s":"$100k < i < $1M","v":0.787},{"h":3.65,"s":"$100k < i < $1M","v":0.764},{"h":3.89,"s":"$100k < i < $1M","v":0.772},{"h":4.1,"s":"$100k < i < $1M","v":0.787},{"h":4.18,"s":"$100k < i < $1M","v":0.821},{"h":4.27,"s":"$100k < i < $1M","v":0.725},{"h":4.52,"s":"$100k < i < $1M","v":0.725},{"h":4.64,"s":"$100k < i < $1M","v":0.714},{"h":5.1,"s":"$100k < i < $1M","v":0.714},{"h":5.18,"s":"$100k < i < $1M","v":0.78},{"h":5.68,"s":"$100k < i < $1M","v":0.78},{"h":5.84,"s":"$100k < i < $1M","v":0.818},{"h":6.07,"s":"$100k < i < $1M","v":0.834},{"h":6.48,"s":"$100k < i < $1M","v":0.845},{"h":6.9,"s":"$100k < i < $1M","v":0.842},{"h":7.02,"s":"$100k < i < $1M","v":0.834},{"h":7.11,"s":"$100k < i < $1M","v":0.73},{"h":7.19,"s":"$100k < i < $1M","v":0.792},{"h":7.52,"s":"$100k < i < $1M","v":0.792},{"h":7.69,"s":"$100k < i < $1M","v":0.78},{"h":7.94,"s":"$100k < i < $1M","v":0.78},{"h":8.04,"s":"$100k < i < $1M","v":0.761},{"h":8.62,"s":"$100k < i < $1M","v":0.761},{"h":8.7,"s":"$100k < i < $1M","v":0.795},{"h":8.95,"s":"$100k < i < $1M","v":0.821},{"h":9.12,"s":"$100k < i < $1M","v":0.821},{"h":9.2,"s":"$100k < i < $1M","v":0.787},{"h":9.28,"s":"$100k < i < $1M","v":0.787},{"h":9.37,"s":"$100k < i < $1M","v":0.86},{"h":9.57,"s":"$100k < i < $1M","v":0.852},{"h":9.7,"s":"$100k < i < $1M","v":0.904},{"h":10.08,"s":"$100k < i < $1M","v":0.908},{"h":10.16,"s":"$100k < i < $1M","v":0.842},{"h":10.49,"s":"$100k < i < $1M","v":0.842},{"h":10.62,"s":"$100k < i < $1M","v":0.795},{"h":10.87,"s":"$100k < i < $1M","v":0.792},{"h":10.95,"s":"$100k < i < $1M","v":0.818},{"h":11.08,"s":"$100k < i < $1M","v":0.818},{"h":11.16,"s":"$100k < i < $1M","v":0.795},{"h":11.28,"s":"$100k < i < $1M","v":0.741},{"h":11.41,"s":"$100k < i < $1M","v":0.756},{"h":11.57,"s":"$100k < i < $1M","v":0.738},{"h":12.26,"s":"$100k < i < $1M","v":0.741},{"h":12.63,"s":"$100k < i < $1M","v":0.752},{"h":12.71,"s":"$100k < i < $1M","v":0.769},{"h":13.25,"s":"$100k < i < $1M","v":0.756},{"h":13.33,"s":"$100k < i < $1M","v":0.72},{"h":13.58,"s":"$100k < i < $1M","v":0.72},{"h":13.67,"s":"$100k < i < $1M","v":0.78},{"h":13.82,"s":"$100k < i < $1M","v":0.78},{"h":13.91,"s":"$100k < i < $1M","v":0.733},{"h":14.12,"s":"$100k < i < $1M","v":0.728},{"h":14.23,"s":"$100k < i < $1M","v":0.795},{"h":14.49,"s":"$100k < i < $1M","v":0.795},{"h":14.75,"s":"$100k < i < $1M","v":0.764},{"h":15.17,"s":"$100k < i < $1M","v":0.733},{"h":15.43,"s":"$100k < i < $1M","v":0.741},{"h":15.65,"s":"$100k < i < $1M","v":0.753},{"h":16.03,"s":"$100k < i < $1M","v":0.741},{"h":16.14,"s":"$100k < i < $1M","v":0.772},{"h":16.31,"s":"$100k < i < $1M","v":0.849},{"h":16.61,"s":"$100k < i < $1M","v":0.86},{"h":16.87,"s":"$100k < i < $1M","v":0.868},{"h":17.64,"s":"$100k < i < $1M","v":0.865},{"h":17.9,"s":"$100k < i < $1M","v":0.904},{"h":18.1,"s":"$100k < i < $1M","v":0.904},{"h":18.19,"s":"$100k < i < $1M","v":0.854},{"h":18.32,"s":"$100k < i < $1M","v":0.854},{"h":18.44,"s":"$100k < i < $1M","v":0.989},{"h":18.74,"s":"$100k < i < $1M","v":0.997},{"h":18.83,"s":"$100k < i < $1M","v":0.95},{"h":19.17,"s":"$100k < i < $1M","v":0.961},{"h":19.34,"s":"$100k < i < $1M","v":0.829},{"h":19.6,"s":"$100k < i < $1M","v":0.842},{"h":19.9,"s":"$100k < i < $1M","v":0.826},{"h":20.1,"s":"$100k < i < $1M","v":0.837},{"h":20.78,"s":"$100k < i < $1M","v":0.837},{"h":20.82,"s":"$100k < i < $1M","v":0.88},{"h":21.47,"s":"$100k < i < $1M","v":0.888},{"h":22.13,"s":"$100k < i < $1M","v":0.904},{"h":22.26,"s":"$100k < i < $1M","v":0.852},{"h":22.9,"s":"$100k < i < $1M","v":0.849},{"h":23.16,"s":"$100k < i < $1M","v":0.865},{"h":23.42,"s":"$100k < i < $1M","v":0.891},{"h":23.68,"s":"$100k < i < $1M","v":0.877},{"h":23.76,"s":"$100k < i < $1M","v":0.702},{"h":23.83,"s":"$100k < i < $1M","v":0.609},{"h":23.93,"s":"$100k < i < $1M","v":0.679},{"h":24.04,"s":"$100k < i < $1M","v":0.399},{"h":24.21,"s":"$100k < i < $1M","v":0.391},{"h":24.32,"s":"$100k < i < $1M","v":0.003},{"h":24.47,"s":"$100k < i < $1M","v":0.112},{"h":24.56,"s":"$100k < i < $1M","v":0.065},{"h":24.86,"s":"$100k < i < $1M","v":0.205},{"h":25.2,"s":"$100k < i < $1M","v":0.228},{"h":25.5,"s":"$100k < i < $1M","v":0.21},{"h":25.65,"s":"$100k < i < $1M","v":0.384},{"h":25.88,"s":"$100k < i < $1M","v":0.298},{"h":26.13,"s":"$100k < i < $1M","v":0.081},{"h":26.3,"s":"$100k < i < $1M","v":0.099},{"h":26.56,"s":"$100k < i < $1M","v":0.089},{"h":26.82,"s":"$100k < i < $1M","v":0.135},{"h":27.02,"s":"$100k < i < $1M","v":0.148},{"h":27.24,"s":"$100k < i < $1M","v":0.148},
{"h":3.52,"s":"$1M < i < $10M","v":1},{"h":13.67,"s":"$1M < i < $10M","v":1},{"h":13.75,"s":"$1M < i < $10M","v":0.012},{"h":14.17,"s":"$1M < i < $10M","v":0.012},{"h":14.25,"s":"$1M < i < $10M","v":0.492},{"h":23.89,"s":"$1M < i < $10M","v":0.492},{"h":24,"s":"$1M < i < $10M","v":0},{"h":25.58,"s":"$1M < i < $10M","v":0},{"h":25.67,"s":"$1M < i < $10M","v":0.899},{"h":27.24,"s":"$1M < i < $10M","v":0.899}
],
"watermark":[{"h":5.46,"v":0.24,"t":"MATERIAL"},{"h":5.46,"v":0.075,"t":"INDICATORS"}],
"flask":[{"h":4.35,"v":0.169}],
"korean":[{"h":19.09,"v":0.22,"t":"곰지네 트레이딩 CVD"}],
"notes":[{"h":19.02,"v":0.06,"t":"Powered By Material Indictors"},{"h":25,"v":-0.35,"t":"https://t.me/oddstrading2"}]
},
"vconcat":[
{
"width":1090,"height":297,
"title":{"text":"ETH_USDT","anchor":"start","frame":"group","fontSize":18.5,"fontWeight":"bold","font":"Liberation Sans","color":"#000","offset":6},
"view":{"fill":"#0a0000","stroke":"#999"},
"layer":[
{"data":{"name":"heat"},"mark":{"type":"rect","clip":true,"strokeWidth":0.6},
"encoding":{
"x":{"field":"a","type":"quantitative","scale":{"domain":[3.44,27.05],"nice":false,"zero":false},"axis":null},
"x2":{"field":"b"},
"y":{"field":"lo","type":"quantitative","scale":{"domain":[3133,3433],"nice":false,"zero":false},"axis":{"orient":"right","title":"Price [USDT]","values":[3150,3200,3250,3300,3350,3400],"labelExpr":"format(datum.value/1000,'.3f')+' k'","grid":false,"domainColor":"#888","tickColor":"#666","tickSize":6,"labelPadding":4,"titlePadding":10}},
"y2":{"field":"hi"},
"stroke":{"field":"v","type":"quantitative","scale":{"domain":[0,14.5,29,38.7],"range":["#0a0000","#ff0000","#ffff00","#ffffff"],"interpolate":"rgb"},"legend":null},
"color":{"field":"v","type":"quantitative","scale":{"domain":[0,14.5,29,38.7],"range":["#0a0000","#ff0000","#ffff00","#ffffff"],"interpolate":"rgb"},
"legend":{"orient":"none","legendX":-103,"legendY":22,"title":"Volume","titleFont":"Liberation Sans","titleFontStyle":"italic","titleFontWeight":"normal","titleFontSize":15,"titleColor":"#555","titlePadding":4,"gradientLength":246,"gradientThickness":29,"gradientStrokeColor":"#222","gradientStrokeWidth":1,"values":[0,5,10,15,20,25,30,35],"labelExpr":"datum.value==0?'0':datum.value==5?'5 M':format(datum.value,'.1f')+' M'","labelFontSize":12.5,"labelColor":"#555","labelFont":"Liberation Sans","labelOffset":7}}
}},
{"data":{"name":"price"},"mark":{"type":"line","color":"#2f78ae","strokeWidth":2.5,"clip":true},
"encoding":{
"x":{"field":"h","type":"quantitative","axis":null},
"y":{"field":"p","type":"quantitative","axis":{"orient":"right","title":null,"values":[3140,3150,3160,3170,3180,3190,3200,3210,3220,3230,3240,3250,3260,3270,3280,3290,3300,3310,3320,3330,3340,3350,3360,3370,3380,3390,3400,3410,3420,3430],"labels":false,"grid":false,"domain":false,"tickColor":"#666","tickSize":3}}
}}
],
"resolve":{"axis":{"y":"independent"}}
},
{
"width":1090,"height":213,
"view":{"stroke":"#e4e4e4"},
"layer":[
{"data":{"name":"flask"},"mark":{"type":"point","shape":"M-0.22,-0.95 L0.22,-0.95 L0.22,-0.2 L0.92,0.75 Q1,0.95 0.8,0.95 L-0.8,0.95 Q-1,0.95 -0.92,0.75 L-0.22,-0.2 Z","filled":false,"stroke":"#e3e7e9","strokeWidth":3,"opacity":1,"size":6100},
"encoding":{
"x":{"field":"h","type":"quantitative","scale":{"domain":[3.43,27.24],"nice":false,"zero":false},"axis":{"title":"Date (UTC)","values":[4,8,12,16,20,24],"labelExpr":"datum.value==24?'1/19':datum.value+'h'","grid":true,"gridColor":"#e6e6e6","domainColor":"#111","tickColor":"#111","tickSize":6,"labelPadding":4,"titlePadding":10}},
"y":{"field":"v","type":"quantitative","scale":{"domain":[0,1],"nice":false},"axis":{"orient":"left","title":"Normalized CVD [arb. u.]","values":[0,0.2,0.4,0.6,0.8,1],"labelExpr":"datum.value==0?'0':datum.value>=1?'1.000':format(datum.value*1000,'.2f')+' m'","grid":true,"gridColor":"#e6e6e6","domainColor":"#111","tickColor":"#111","tickSize":6,"labelPadding":6,"titlePadding":8}}
}},
{"data":{"name":"flask"},"mark":{"type":"point","shape":"M-0.55,0.2 L0.55,0.2 L0.92,0.75 Q1,0.95 0.8,0.95 L-0.8,0.95 Q-1,0.95 -0.92,0.75 Z","filled":true,"fill":"#e8f0f2","opacity":1,"size":6100},
"encoding":{"x":{"field":"h","type":"quantitative"},"y":{"field":"v","type":"quantitative","axis":null}}},
{"data":{"name":"watermark"},"mark":{"type":"text","align":"left","baseline":"middle","font":"Roboto","fontWeight":"bold","fontSize":29.5,"color":"#dcdfe2"},
"encoding":{"x":{"field":"h","type":"quantitative"},"y":{"field":"v","type":"quantitative","axis":null},"text":{"field":"t"}}},
{"data":{"name":"cvd"},"mark":{"type":"line","strokeWidth":2.3},
"encoding":{
"x":{"field":"h","type":"quantitative"},
"y":{"field":"v","type":"quantitative","axis":{"orient":"left","title":null,"values":[0.04,0.08,0.12,0.16,0.24,0.28,0.32,0.36,0.44,0.48,0.52,0.56,0.64,0.68,0.72,0.76,0.84,0.88,0.92,0.96],"labels":false,"grid":false,"domain":false,"tickColor":"#111","tickSize":3}},
"color":{"field":"s","type":"nominal","sort":null,"scale":{"domain":["all orders","$100 < i < $1k","$1k < i < $10k","$10k < i < $100k","$100k < i < $1M","$1M < i < $10M"],"range":["#1f77b4","#ff7f0e","#2ca02c","#d62728","#9467bd","#8c564b"]},
"legend":{"orient":"none","legendX":-93,"legendY":290,"direction":"horizontal","columns":6,"title":null,"symbolType":"stroke","symbolSize":529,"symbolStrokeWidth":3,"labelFont":"Liberation Sans","labelFontSize":12,"labelColor":"#444","fillColor":"white","strokeColor":"#eee","padding":10,"columnPadding":-1,"labelOffset":5}}
}},
{"data":{"name":"korean"},"mark":{"type":"text","align":"center","baseline":"middle","font":"Noto Sans CJK KR","fontWeight":500,"fontSize":27,"color":"#000"},
"encoding":{"x":{"field":"h","type":"quantitative"},"y":{"field":"v","type":"quantitative","axis":null},"text":{"field":"t"}}},
{"data":{"name":"notes"},"mark":{"type":"text","align":"center","baseline":"middle","font":"Noto Sans CJK KR","fontWeight":500,"fontSize":25,"color":"#000"},
"encoding":{"x":{"field":"h","type":"quantitative"},"y":{"field":"v","type":"quantitative","axis":null},"text":{"field":"t"}}}
],
"resolve":{"axis":{"y":"independent"}}
}
]
}
